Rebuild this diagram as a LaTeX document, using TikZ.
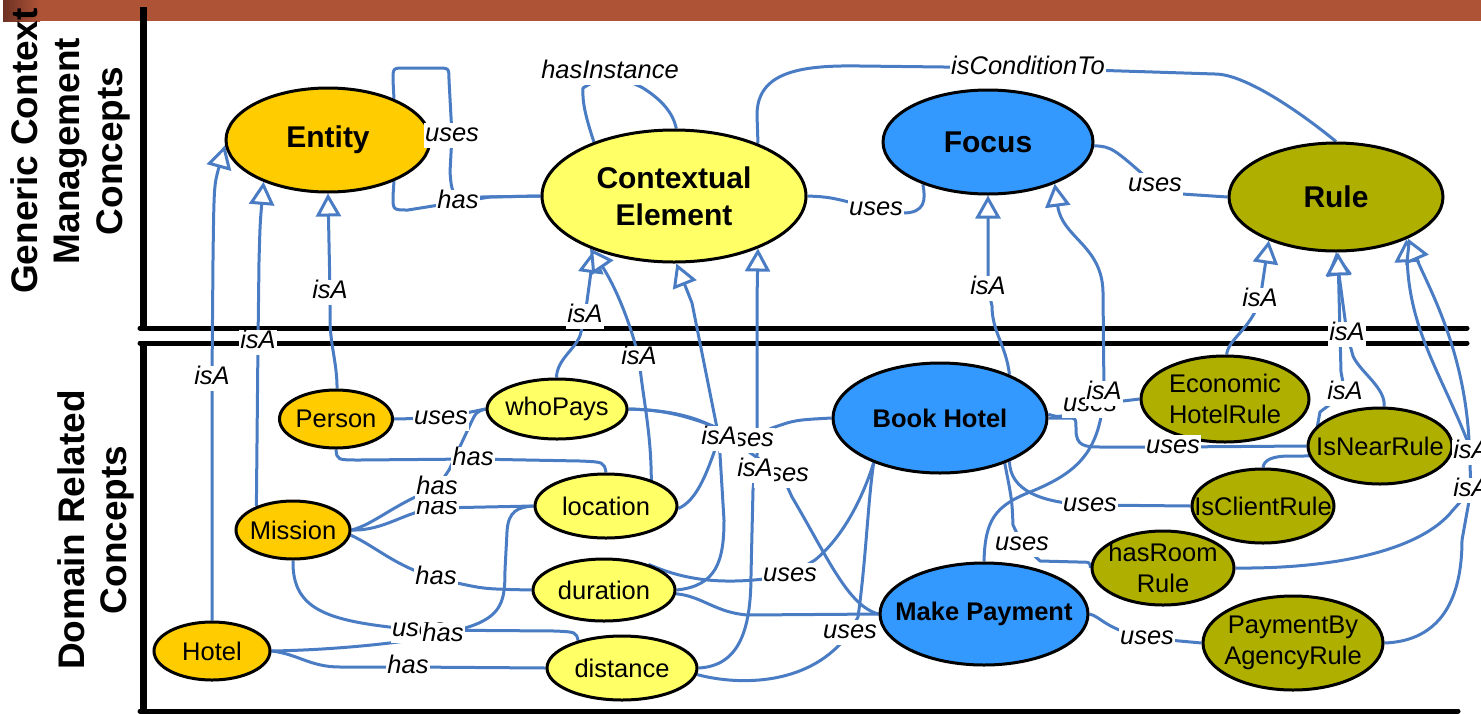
\documentclass[tikz,border=0pt]{standalone}
\usepackage{fontspec}
\setmainfont{Liberation Sans}
\usetikzlibrary{arrows.meta,shapes.geometric}
\pgfdeclarelayer{frame}
\pgfdeclarelayer{edges}
\pgfdeclarelayer{labels}
\pgfsetlayers{frame,edges,main,labels}
\definecolor{cBar}{RGB}{175,83,55}
\definecolor{cBarDark}{RGB}{110,50,35}
\definecolor{cOrange}{HTML}{FFCC00}
\definecolor{cLemon}{HTML}{FFFF66}
\definecolor{cSky}{HTML}{3399FF}
\definecolor{cOlive}{HTML}{AFAF00}
\definecolor{cEdge}{RGB}{74,124,196}
\begin{document}
\begin{tikzpicture}[x=1pt,y=-1pt,
  concept/.style={ellipse, draw=black, line width=3pt, inner sep=0pt},
  ctext/.style={align=center, inner sep=0pt, font=\fontsize{25.5}{31}\selectfont},
  btext/.style={align=center, inner sep=0pt, font=\bfseries\fontsize{30}{37}\selectfont},
  mtext/.style={align=center, inner sep=0pt, font=\bfseries\fontsize{25.5}{31}\selectfont},
  hdr/.style={rotate=90, align=center, inner sep=0pt, font=\bfseries\fontsize{37}{42.5}\selectfont},
  lbl/.style={fill=white, inner xsep=1pt, inner ysep=1pt, text height=18pt, text depth=5pt,
              font=\itshape\fontsize{25.5}{30}\selectfont},
  link/.style={draw=cEdge, line width=3pt, line join=round},
  isa/.style={link, -{Triangle[width=25pt,length=23pt,fill=white]}}]
\useasboundingbox (0,0) rectangle (1481,713);

% ---------- frame: top bar and the two panels ----------
\begin{pgfonlayer}{frame}
  \fill[cBar] (3,0) rectangle (1481,21);
  \shade[left color=cBarDark, right color=cBar] (3,0) rectangle (40,21);
  \draw[line width=7pt] (143,7) -- (143,328);
  \draw[line width=5pt, line cap=round] (140,328) -- (1467,328);
  \draw[line width=5pt, line cap=round] (140,343) -- (1467,343);
  \draw[line width=7pt] (143,341) -- (143,713);
  \draw[line width=5pt, line cap=round] (140,711) -- (1458,711);
\end{pgfonlayer}

% ---------- panel headings ----------
\node[hdr] (hdTop) at (70,151) {Generic Context\\Management\\Concepts};
\node[hdr] (hdBot) at (96,530) {Domain Related\\Concepts};

% ---------- generic concepts ----------
\node[concept, fill=cOrange, minimum width=204pt, minimum height=104pt] (ent) at (328,140) {};
\node[btext] (entT) at (ent) {Entity};
\node[concept, fill=cLemon, minimum width=264pt, minimum height=132pt] (ce) at (674,196) {};
\node[btext] (ceT) at (ce) {Contextual\\Element};
\node[concept, fill=cSky, minimum width=210pt, minimum height=104pt] (foc) at (988,142) {};
\node[btext] (focT) at (foc) {Focus};
\node[concept, fill=cOlive, minimum width=214pt, minimum height=108pt] (rule) at (1336,197) {};
\node[btext] (ruleT) at (rule) {Rule};

% ---------- domain concepts ----------
\node[concept, fill=cOrange, minimum width=113pt, minimum height=58pt] (per) at (336,419) {};
\node[ctext] (perT) at (per) {Person};
\node[concept, fill=cLemon, minimum width=140pt, minimum height=60pt] (who) at (557,409) {};
\node[ctext] (whoT) at (who) {whoPays};
\node[concept, fill=cLemon, minimum width=142pt, minimum height=64pt] (loc) at (606,506) {};
\node[ctext] (locT) at (loc) {location};
\node[concept, fill=cLemon, minimum width=142pt, minimum height=62pt] (dur) at (604,590) {};
\node[ctext] (durT) at (dur) {duration};
\node[concept, fill=cLemon, minimum width=150pt, minimum height=64pt] (dis) at (622,668) {};
\node[ctext] (disT) at (dis) {distance};
\node[concept, fill=cOrange, minimum width=114pt, minimum height=58pt] (mis) at (293,530) {};
\node[ctext] (misT) at (mis) {Mission};
\node[concept, fill=cOrange, minimum width=116pt, minimum height=58pt] (hot) at (212,651) {};
\node[ctext] (hotT) at (hot) {Hotel};
\node[concept, fill=cSky, minimum width=214pt, minimum height=110pt] (bh) at (940,418) {};
\node[mtext] (bhT) at (bh) {Book Hotel};
\node[concept, fill=cSky, minimum width=208pt, minimum height=102pt] (mp) at (984,614) {};
\node[mtext] (mpT) at (mp) {Make Payment};
\node[concept, fill=cOlive, minimum width=168pt, minimum height=86pt] (ehr) at (1225,399) {};
\node[ctext] (ehrT) at (ehr) {Economic\\HotelRule};
\node[concept, fill=cOlive, minimum width=144pt, minimum height=76pt] (inr) at (1380,446) {};
\node[ctext] (inrT) at (inr) {IsNearRule};
\node[concept, fill=cOlive, minimum width=142pt, minimum height=74pt] (icr) at (1263,506) {};
\node[ctext] (icrT) at (icr) {IsClientRule};
\node[concept, fill=cOlive, minimum width=142pt, minimum height=74pt] (hrr) at (1163,568) {};
\node[ctext] (hrrT) at (hrr) {hasRoom\\Rule};
\node[concept, fill=cOlive, minimum width=180pt, minimum height=94pt] (pba) at (1293,643) {};
\node[ctext] (pbaT) at (pba) {PaymentBy\\AgencyRule};

% ---------- linking phrases ----------
\begin{pgfonlayer}{labels}
  \node[lbl] (l1) at (452,135) {uses};
  \node[lbl] (l2) at (458,202) {has};
  \node[lbl] (l3) at (610,72) {hasInstance};
  \node[lbl] (l4) at (1028,68) {isConditionTo};
  \node[lbl] (l5) at (876,209) {uses};
  \node[lbl] (l6) at (1155,185) {uses};
  \node[lbl] (l7) at (330,292) {isA};
  \node[lbl] (l8) at (258,342) {isA};
  \node[lbl] (l9) at (212,378) {isA};
  \node[lbl] (l10) at (585,316) {isA};
  \node[lbl] (l11) at (639,358) {isA};
  \node[lbl] (l12u) at (747,440) {uses};
  \node[lbl] (l12) at (719,438) {isA};
  \node[lbl] (l13u) at (782,475) {uses};
  \node[lbl] (l13) at (755,470) {isA};
  \node[lbl] (l14) at (988,288) {isA};
  \node[lbl] (l15u) at (1090,405) {uses};
  \node[lbl] (l15) at (1104,393) {isA};
  \node[lbl] (l16) at (1260,300) {isA};
  \node[lbl] (l17) at (1347,334) {isA};
  \node[lbl] (l18) at (1345,393) {isA};
  \node[lbl] (l19) at (1471,452) {isA};
  \node[lbl] (l20) at (1471,490) {isA};
  \node[lbl] (l21) at (441,418) {uses};
  \node[lbl] (l22) at (473,459) {has};
  \node[lbl] (l23) at (437,508) {has};
  \node[lbl] (l24) at (437,488) {has};
  \node[lbl] (l25) at (436,578) {has};
  \node[lbl] (l26) at (419,630) {uses};
  \node[lbl] (l27) at (443,635) {has};
  \node[lbl] (l28) at (408,667) {has};
  \node[lbl] (l29) at (790,575) {uses};
  \node[lbl] (l30) at (850,632) {uses};
  \node[lbl] (l31) at (1173,447) {uses};
  \node[lbl] (l32) at (1090,505) {uses};
  \node[lbl] (l33) at (1022,544) {uses};
  \node[lbl] (l34) at (1147,638) {uses};
\end{pgfonlayer}

% ---------- connectors ----------
\begin{pgfonlayer}{edges}
  % Entity -- Contextual Element
  \draw[link] (ent.32) -- (393,80) .. controls (393,68) .. (405,68) -- (437,68)
     .. controls (449,68) .. (449,80) -- (l1.center) -- (450,172)
     .. controls (452,197) .. (482,197) -- (ce.180);
  \draw[link] (ent.-32) -- (393,196) .. controls (393,210) .. (408,210) -- (l2.center) -- (490,197) -- (ce.180);
  % Contextual Element self relation
  \draw[link] (ce.146) .. controls (586,118) and (582,102) .. (583,88) -- (l3.center) -- (643,88)
     .. controls (662,100) and (673,113) .. (ce.88);
  % isConditionTo
  \draw[link] (ce.32) -- (757,115) .. controls (757,72) and (800,65) .. (860,66) -- (l4.center) -- (1215,74)
     .. controls (1245,74) and (1300,112) .. (rule.90);
  % uses between generic concepts
  \draw[link] (ce.0) .. controls (830,197) .. (l5.center) -- (903,213) .. controls (925,213) and (926,200) .. (foc.213);
  \draw[link] (foc.-2) .. controls (1112,147) .. (l6.center) -- (1182,194) -- (rule.180);

  % isA towards Entity
  \draw[isa] (per.88) .. controls (337,362) and (330,345) .. (330,318) -- (l7.center) -- (ent.270);
  \draw[isa] (mis.147) -- (l8.center) -- (259,262) .. controls (260,225) .. (ent.213);
  \draw[isa] (hot.90) -- (l9.center) -- (213,260) .. controls (214,185) .. (ent.183);

  % isA towards Contextual Element
  \draw[isa] (who.91) .. controls (557,358) and (578,348) .. (581,332) -- (l10.center) -- (ce.214);
  \draw[isa] (loc.30) .. controls (651,430) and (643,400) .. (l11.center) -- (634,340)
     .. controls (622,300) and (608,275) .. (ce.212);
  \draw[isa] (loc.-2) .. controls (698,500) and (708,470) .. (l12.center) -- (692,303) -- (ce.-88);
  \draw[link] (dur.0) .. controls (716,586) and (724,562) .. (724,520) -- (l12.center);
  \draw[isa] (dis.0) .. controls (738,666) and (751,632) .. (751,575) -- (753,490) -- (l13.center)
     -- (757,455) -- (757,300) -- (ce.-32);

  % whoPays uses the tasks
  \draw[link] (who.0) .. controls (665,410) and (690,415) .. (l12u.center) -- (772,428)
     .. controls (795,420) .. (bh.180);
  \draw[link] (who.0) .. controls (665,410) and (690,415) .. (712,426) -- (l13u.center) -- (792,497)
     .. controls (828,558) and (848,606) .. (mp.180);

  % isA towards Focus
  \draw[isa] (bh.32) .. controls (1006,345) and (992,332) .. (992,306) -- (l14.center) -- (foc.270);
  \draw[isa] (mp.90) .. controls (985,520) and (995,506) .. (1030,492)
     .. controls (1080,472) and (1100,450) .. (l15.center) -- (1103,292)
     .. controls (1102,245) and (1062,238) .. (foc.-32);

  % isA towards Rule
  \draw[isa] (ehr.88) .. controls (1229,338) and (1250,330) .. (l16.center) -- (rule.213);
  \draw[isa] (inr.84) .. controls (1386,388) and (1360,372) .. (1353,356) -- (l17.center) -- (rule.270);
  \draw[isa] (icr.90) .. controls (1264,460) and (1272,456) .. (1290,456) -- (1303,456)
     .. controls (1313,456) .. (1314,444) -- (1320,412) -- (l18.center) -- (1341,372) -- (rule.272);
  \draw[isa] (inr.0) -- (l19.center) -- (1467,440) .. controls (1440,372) and (1410,330) .. (rule.-31);
  \draw[isa] (hrr.0) .. controls (1330,569) and (1420,552) .. (1453,510) -- (l20.center) -- (1469,440)
     .. controls (1464,350) and (1430,290) .. (rule.-30);
  \draw[link] (pba.0) .. controls (1440,641) and (1462,600) .. (1462,540) -- (l20.center);

  % Person, Mission, Hotel relations
  \draw[link] (per.0) -- (l21.center) -- (who.180);
  \draw[link] (per.270) .. controls (337,460) .. (360,460) -- (l22.center) -- (580,461)
     .. controls (604,462) .. (loc.90);
  \draw[link] (mis.0) .. controls (375,524) and (395,503) .. (l24.center) -- (449,470) -- (470,425)
     .. controls (476,412) .. (who.180);
  \draw[link] (mis.0) .. controls (385,531) and (405,511) .. (l23.center) -- (loc.180);
  \draw[link] (mis.-5) .. controls (378,548) and (395,566) .. (l25.center) -- (457,583)
     .. controls (485,589) .. (dur.180);
  \draw[link] (mis.270) .. controls (292,612) and (330,622) .. (l26.center) -- (555,631)
     .. controls (576,632) .. (dis.148);
  \draw[link] (hot.0) .. controls (330,650) and (395,644) .. (l27.center) -- (465,628)
     .. controls (503,617) and (505,600) .. (505,570) -- (507,532)
     .. controls (508,511) and (518,507) .. (loc.180);
  \draw[link] (hot.0) .. controls (298,654) and (310,667) .. (340,667) -- (l28.center) -- (dis.180);

  % duration and distance towards the tasks
  \draw[link] (dur.30) .. controls (680,578) and (720,588) .. (l29.center) -- (815,560)
     .. controls (842,538) and (862,500) .. (bh.214);
  \draw[link] (dis.-5) .. controls (740,686) and (812,686) .. (l30.center) -- (858,617)
     .. controls (866,560) and (868,500) .. (bh.214);
  \draw[link] (dur.-3) .. controls (702,596) and (716,613) .. (748,615) -- (mp.180);

  % tasks use rules
  \draw[link] (bh.2) .. controls (1060,418) .. (l15u.center) -- (ehr.180);
  \draw[link] (bh.0) -- (1068,418) .. controls (1076,418) .. (1076,430)
     .. controls (1076,446) and (1085,447) .. (1100,447) -- (l31.center) -- (inr.180);
  \draw[link] (bh.-32) .. controls (1010,490) and (1040,503) .. (l32.center) -- (icr.180);
  \draw[link] (bh.-35) .. controls (1012,500) .. (1013,525) -- (l33.center) -- (1040,561) -- (1078,562)
     .. controls (1090,562) .. (hrr.180);
  \draw[link] (mp.0) .. controls (1100,616) and (1106,630) .. (l34.center) -- (pba.180);
\end{pgfonlayer}
\end{tikzpicture}
\end{document}
